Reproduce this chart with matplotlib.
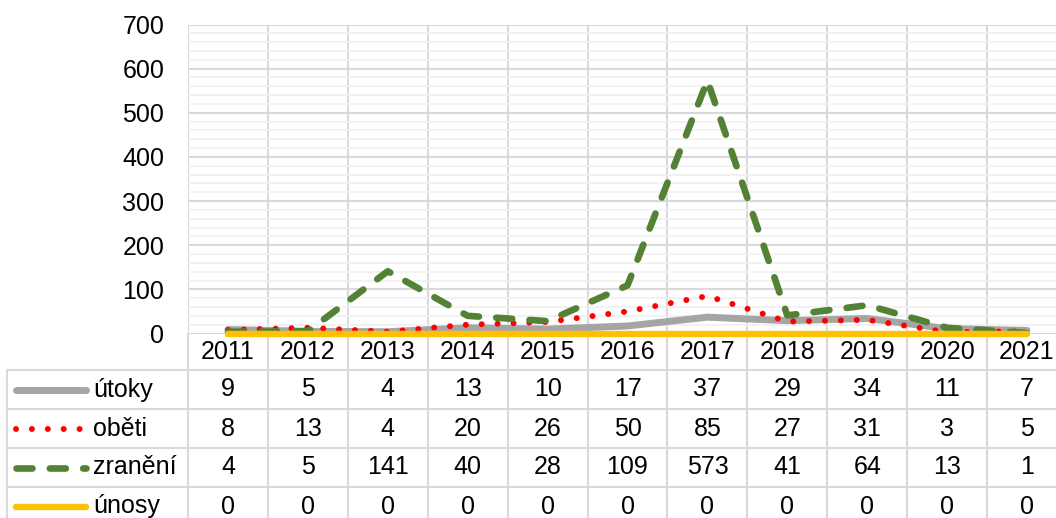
import numpy as np
import matplotlib.pyplot as plt
from matplotlib.lines import Line2D

years = ['2011', '2012', '2013', '2014', '2015', '2016', '2017', '2018', '2019', '2020', '2021']
utoky = [9, 5, 4, 13, 10, 17, 37, 29, 34, 11, 7]
obeti = [8, 13, 4, 20, 26, 50, 85, 27, 31, 3, 5]
zraneni = [4, 5, 141, 40, 28, 109, 573, 41, 64, 13, 1]
unosy = [0, 0, 0, 0, 0, 0, 0, 0, 0, 0, 0]
series_names = ['útoky', 'oběti', 'zranění', 'únosy']

plt.rcParams['font.family'] = ['Liberation Sans', 'DejaVu Sans']

W, H = 1056, 518
fig = plt.figure(figsize=(W / 100, H / 100), dpi=100)

# plot area in pixels (right edge runs past the picture, as in the source)
px_l, px_r, px_t, px_b = 188, 1067, 24.5, 333.5
ax = fig.add_axes([px_l / W, 1 - px_b / H, (px_r - px_l) / W, (px_b - px_t) / H])

grey = '#a5a5a5'
red = '#ff0000'
green = '#548235'
yellow = '#ffc000'
gridc = '#d9d9d9'
minorc = '#f0f0f0'

styles = [
    dict(color=grey, lw=5.0, solid_capstyle='round', solid_joinstyle='round'),
    dict(color=red, lw=4.3, linestyle=(0, (0.01, 2.65)), dash_capstyle='round',
         dash_joinstyle='round'),
    dict(color=green, lw=4.8, linestyle=(0, (2.4, 2.6)), dash_capstyle='round',
         dash_joinstyle='round'),
    dict(color=yellow, lw=4.6, solid_capstyle='round'),
]

x = np.arange(len(years))
rows = [utoky, obeti, zraneni, unosy]
for k, (vals, st) in enumerate(zip(rows, styles)):
    ax.plot(x, vals, zorder=3 + k, clip_on=False, **st)

ax.set_xlim(-0.5, len(years) - 0.5)
ax.set_ylim(0, 700)
ax.set_yticks(range(0, 701, 100))
ax.set_yticks(range(0, 701, 20), minor=True)
ax.set_xticks(np.arange(-0.5, len(years), 1.0))
ax.set_xticklabels([])
ax.grid(which='major', axis='y', color=gridc, lw=1.5, zorder=1)
ax.grid(which='minor', axis='y', color=minorc, lw=1.2, zorder=0)
ax.grid(which='major', axis='x', color=gridc, lw=1.5, zorder=1)
ax.tick_params(which='both', length=0, labelsize=18, pad=17)
for s in ax.spines.values():
    s.set_visible(False)


def fy(py):
    return 1 - py / H


def fx(pxx):
    return pxx / W


# data table below the plot
row_lines = [370, 409, 448, 487]
bottom = 530
for r in row_lines:
    fig.add_artist(Line2D([fx(7), fx(1080)], [fy(r), fy(r)], color=gridc, lw=1.5))
fig.add_artist(Line2D([fx(7), fx(7)], [fy(370), fy(bottom)], color=gridc, lw=1.5))
bt = ax.get_xaxis_transform()
ax_h = px_b - px_t
for b in np.arange(-0.5, len(years), 1.0):
    ax.plot([b, b], [0, -(bottom - px_b) / ax_h], transform=bt, color=gridc, lw=1.5,
            clip_on=False, zorder=1)

# year headers
for i, yr in enumerate(years):
    ax.text(i, -(352 - px_b) / ax_h, yr, transform=bt, ha='center', va='center', fontsize=18)

centers = [389.5, 428.5, 467.5, 506.5]
for vals, name, st, cy in zip(rows, series_names, styles, centers):
    for i, v in enumerate(vals):
        ax.text(i, -(cy - px_b) / ax_h, str(v), transform=bt, ha='center', va='center', fontsize=18)
    fig.add_artist(Line2D([fx(16), fx(86)], [fy(cy), fy(cy)], **st))
    fig.text(fx(93), fy(cy), name, ha='left', va='center', fontsize=18)

fig.savefig('out.png', dpi=100)
